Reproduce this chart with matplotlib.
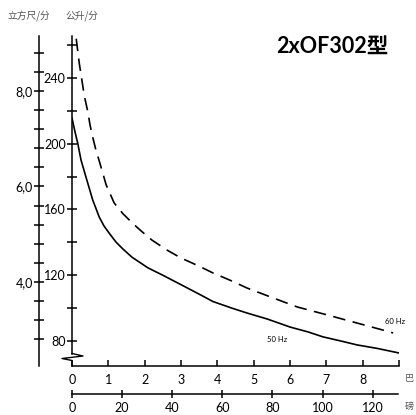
import matplotlib
matplotlib.use("Agg")
import matplotlib.pyplot as plt

# ---- data ----
bar_50 = [0.0, 0.08, 0.157, 0.248, 0.385, 0.57, 0.75, 0.88, 1.02, 1.21, 1.4, 1.65, 2.09, 2.5, 2.98, 3.5, 3.88, 4.4, 4.82, 5.37, 6.0, 6.5, 6.91, 7.4, 7.85, 8.4, 9.0]
flow_50 = [215.6, 207.5, 200.4, 190.1, 179.7, 165.8, 155.4, 150, 145.7, 140.2, 136, 131, 124.5, 120, 114.5, 108.5, 104, 100, 97, 93.4, 88.5, 85.5, 82.5, 80, 77.6, 75.5, 72.7]
bar_60 = [0.05, 0.11, 0.2, 0.34, 0.43, 0.5, 0.57, 0.66, 0.75, 0.94, 1.16, 1.4, 1.65, 1.9, 2.2, 2.6, 3.0, 3.5, 3.88, 4.4, 4.82, 5.5, 6.2, 7.0, 7.5, 8.0, 8.5, 8.84]
flow_60 = [276, 265, 249, 229, 220, 211, 204, 196, 189.5, 175, 164, 157.5, 152, 147, 141.4, 135.5, 130.5, 125.5, 121.4, 116.5, 112.2, 106.5, 100.7, 96, 93, 90, 87, 84.9]

bar_ticks = [0, 1, 2, 3, 4, 5, 6, 7, 8, 9]
bar_labels = ["0", "1", "2", "3", "4", "5", "6", "7", "8", ""]
psi_ticks = [0, 20, 40, 60, 80, 100, 120]
lmin_major = [80, 120, 160, 200, 240]
lmin_minor = [100, 140, 180, 220, 260]
cfm_major = [4.0, 6.0, 8.0]
cfm_labels = ["4,0", "6,0", "8,0"]
cfm_minor = [2.8, 3.2, 3.6, 4.4, 4.8, 5.2, 5.6, 6.4, 6.8, 7.2, 7.6, 8.4, 8.8]

title = "2xOF302型"
unit_cfm = "立方尺/分"
unit_lmin = "公升/分"
unit_bar = "巴"
unit_psi = "磅"
label_50 = "50 Hz"
label_60 = "60 Hz"

W, H = 416, 415
fig = plt.figure(figsize=(W / 100, H / 100), dpi=100)

# axes placement in pixels
x0, x1 = 72, 399
ytop, ybot = 36, 366
ax = fig.add_axes([x0 / W, (H - ybot) / H, (x1 - x0) / W, (ybot - ytop) / H])

pxL = 263 / 160.0
ax.set_xlim(0, 9)
ax.set_ylim(80 - (ybot - 341) / pxL, 80 + (341 - ytop) / pxL)

font = ["Lato", "Noto Sans CJK SC", "DejaVu Sans"]
cjk = ["Noto Sans CJK SC", "DejaVu Sans"]

ax.plot(bar_50, flow_50, color="black", lw=1.2, clip_on=True)
ax.plot(bar_60, flow_60, color="black", lw=1.2, linestyle=(0, (7.5, 4.5)), clip_on=True)

for s in ["top", "right"]:
    ax.spines[s].set_visible(False)
ax.spines["left"].set_bounds(80 - (353.5 - 341) / pxL, ax.get_ylim()[1])
ax.spines["left"].set_linewidth(1.1)
ax.spines["bottom"].set_linewidth(1.1)
ax.spines["bottom"].set_bounds(0, 9)

ax.set_xticks(bar_ticks)
ax.set_xticklabels(bar_labels, fontfamily=font, fontsize=9)
ax.tick_params(axis="x", direction="in", length=4, width=1.1, pad=6)
ax.set_yticks(lmin_major)
ax.set_yticks(lmin_minor, minor=True)
ax.set_yticklabels([str(v) for v in lmin_major], fontfamily=font, fontsize=9)
ax.tick_params(axis="y", which="both", direction="inout", length=7, width=1.1, pad=1)

# zigzag break at bottom of l/min axis (axes-fraction coords)
def fx(px):
    return (px - x0) / (x1 - x0)
def fy(py):
    return (ybot - py) / (ybot - ytop)
zz_x = [fx(72), fx(83), fx(62), fx(72), fx(72)]
zz_y = [fy(353.5), fy(356), fy(358.5), fy(360.5), fy(366)]
ax.plot(zz_x, zz_y, color="black", lw=1.0, transform=ax.transAxes, clip_on=False)

# psi axis
ax2 = ax.twiny()
ax2.set_xlim(0, 9 * 14.5038)
ax2.xaxis.set_ticks_position("bottom")
ax2.xaxis.set_label_position("bottom")
for s in ["top", "right", "left"]:
    ax2.spines[s].set_visible(False)
ax2.spines["bottom"].set_position(("outward", 28 * 0.72))
ax2.spines["bottom"].set_bounds(0, 130)
ax2.spines["bottom"].set_linewidth(1.1)
ax2.set_xticks(psi_ticks)
ax2.set_xticklabels([str(v) for v in psi_ticks], fontfamily=font, fontsize=9)
ax2.tick_params(axis="x", direction="inout", length=6, width=1.1, pad=3)

# cfm axis
ax3 = ax.twinx()
pxC = 47.75
ax3.set_ylim(4 - (ybot - 282) / pxC, 8 + (91 - ytop) / pxC)
ax3.yaxis.set_ticks_position("left")
for s in ["top", "right", "bottom"]:
    ax3.spines[s].set_visible(False)
ax3.spines["left"].set_position(("outward", 33 * 0.72))
ax3.spines["left"].set_linewidth(1.1)
ax3.set_yticks(cfm_major)
ax3.set_yticklabels(cfm_labels, fontfamily=font, fontsize=9)
ax3.set_yticks(cfm_minor, minor=True)
ax3.tick_params(axis="y", which="both", direction="inout", length=7, width=1.1, pad=1)

# texts
fig.text(276 / W, 1 - 46 / H, title, fontfamily=font, fontweight="bold", fontsize=15.5,
         ha="left", va="center")
fig.text(8 / W, 1 - 16 / H, unit_cfm, fontfamily=cjk, fontsize=7, color="#555555", ha="left", va="center")
fig.text(65 / W, 1 - 16 / H, unit_lmin, fontfamily=cjk, fontsize=7, color="#555555", ha="left", va="center")
fig.text(405 / W, 1 - 378 / H, unit_bar, fontfamily=cjk, fontsize=6.5, color="#555555", ha="left", va="center")
fig.text(405 / W, 1 - 406 / H, unit_psi, fontfamily=cjk, fontsize=6.5, color="#555555", ha="left", va="center")
fig.text(267 / W, 1 - 339 / H, label_50, fontfamily=font, fontsize=5.5, ha="left", va="center")
fig.text(385 / W, 1 - 321 / H, label_60, fontfamily=font, fontsize=5.5, ha="left", va="center")

fig.savefig("out.png", dpi=100)
